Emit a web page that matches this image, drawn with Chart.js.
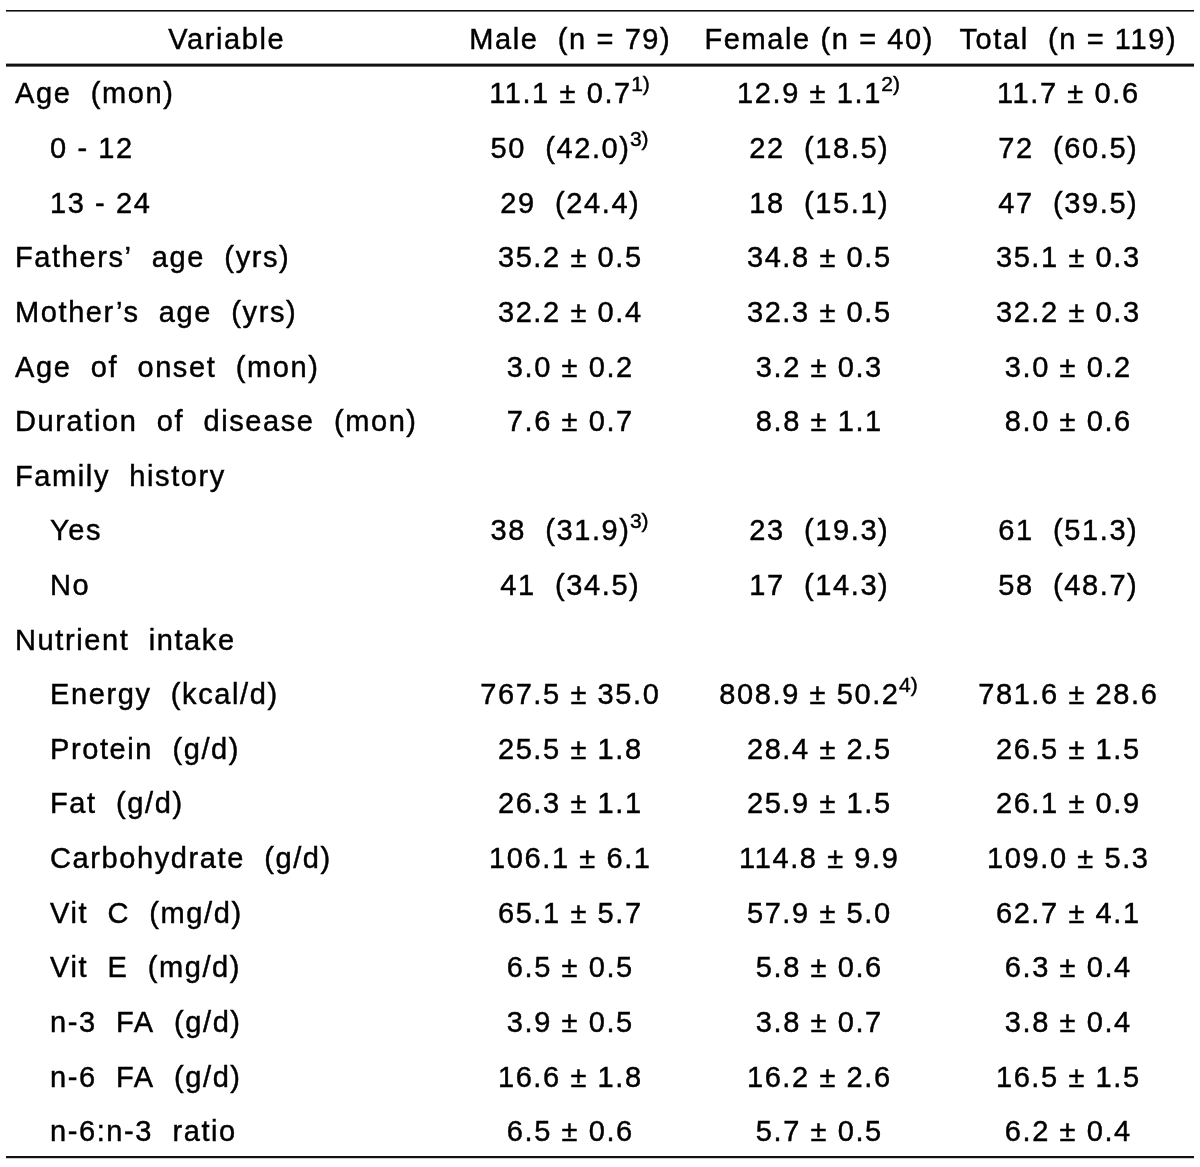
<!DOCTYPE html>
<html>
<head>
<meta charset="utf-8">
<script src="https://cdn.jsdelivr.net/npm/chart.js@4.4.1/dist/chart.umd.min.js"></script>
<style>
  html, body { margin: 0; padding: 0; background: #ffffff; }
  #wrap { width: 1200px; height: 1167px; }
</style>
</head>
<body>
<div id="wrap"><canvas id="c" width="1200" height="1167"></canvas></div>
<script>
// ---------- DATA ----------
const headerLabel = 'Variable';
const columnKeys = ['Male', 'Female', 'Total'];
const columnHeaders = ['Male  (n = 79)', 'Female (n = 40)', 'Total  (n = 119)'];

const variables = [
  'Age  (mon)', '0 - 12', '13 - 24',
  'Fathers’  age  (yrs)', 'Mother’s  age  (yrs)',
  'Age  of  onset  (mon)', 'Duration  of  disease  (mon)',
  'Family  history', 'Yes', 'No',
  'Nutrient  intake', 'Energy  (kcal/d)', 'Protein  (g/d)', 'Fat  (g/d)',
  'Carbohydrate  (g/d)', 'Vit  C  (mg/d)', 'Vit  E  (mg/d)',
  'n-3  FA  (g/d)', 'n-6  FA  (g/d)', 'n-6:n-3  ratio'
];
const variableLevels = [0, 1, 1, 0, 0, 0, 0, 0, 1, 1, 0, 1, 1, 1, 1, 1, 1, 1, 1, 1];

const maleValues = [
  '11.1 ± 0.7', '50  (42.0)', '29  (24.4)', '35.2 ± 0.5', '32.2 ± 0.4',
  '3.0 ± 0.2', '7.6 ± 0.7', '', '38  (31.9)', '41  (34.5)',
  '', '767.5 ± 35.0', '25.5 ± 1.8', '26.3 ± 1.1', '106.1 ± 6.1',
  '65.1 ± 5.7', '6.5 ± 0.5', '3.9 ± 0.5', '16.6 ± 1.8', '6.5 ± 0.6'
];
const femaleValues = [
  '12.9 ± 1.1', '22  (18.5)', '18  (15.1)', '34.8 ± 0.5', '32.3 ± 0.5',
  '3.2 ± 0.3', '8.8 ± 1.1', '', '23  (19.3)', '17  (14.3)',
  '', '808.9 ± 50.2', '28.4 ± 2.5', '25.9 ± 1.5', '114.8 ± 9.9',
  '57.9 ± 5.0', '5.8 ± 0.6', '3.8 ± 0.7', '16.2 ± 2.6', '5.7 ± 0.5'
];
const totalValues = [
  '11.7 ± 0.6', '72  (60.5)', '47  (39.5)', '35.1 ± 0.3', '32.2 ± 0.3',
  '3.0 ± 0.2', '8.0 ± 0.6', '', '61  (51.3)', '58  (48.7)',
  '', '781.6 ± 28.6', '26.5 ± 1.5', '26.1 ± 0.9', '109.0 ± 5.3',
  '62.7 ± 4.1', '6.3 ± 0.4', '3.8 ± 0.4', '16.5 ± 1.5', '6.2 ± 0.4'
];
// footnote markers (superscripts)
const maleNotes   = ['1)', '3)', '', '', '', '', '', '', '3)', '', '', '', '', '', '', '', '', '', '', ''];
const femaleNotes = ['2)', '', '', '', '', '', '', '', '', '', '', '4)', '', '', '', '', '', '', '', ''];
const totalNotes  = ['', '', '', '', '', '', '', '', '', '', '', '', '', '', '', '', '', '', '', ''];

// ---------- BUILD ----------
const rowLabels = [headerLabel].concat(variables);
const columnValues = [maleValues, femaleValues, totalValues];
const columnNotes = [maleNotes, femaleNotes, totalNotes];

const datasets = columnKeys.map((key) => ({
  label: key,
  data: rowLabels.map(r => ({ x: key, y: r })),
  pointRadius: 0,
  pointHoverRadius: 0,
  showLine: false
}));

const FONT = '"Liberation Sans", Arial, "DejaVu Sans", sans-serif';
const BASE_SIZE = 29;
const SUP_SIZE = 21;
const SPACING = 1.6;

function setFont(ctx, size, spacing) {
  ctx.font = size + 'px ' + FONT;
  ctx.letterSpacing = spacing + 'px';
}
function textWidth(ctx, s, spacing) {
  if (!s) return 0;
  return ctx.measureText(s).width - spacing;
}
function paint(ctx, s, x, y) {
  ctx.fillText(s, x, y);
  ctx.strokeText(s, x, y);
}

function drawCell(ctx, cx, cy, base, note, align) {
  setFont(ctx, BASE_SIZE, SPACING);
  const wb = textWidth(ctx, base, SPACING);
  let ws = 0;
  if (note) {
    setFont(ctx, SUP_SIZE, 0);
    ws = ctx.measureText(note).width + 1;
  }
  const x0 = align === 'left' ? cx : cx - (wb + ws) / 2;
  ctx.textAlign = 'left';
  ctx.textBaseline = 'alphabetic';
  ctx.lineWidth = 0.45;
  ctx.strokeStyle = '#000000';
  setFont(ctx, BASE_SIZE, SPACING);
  paint(ctx, base, x0, cy + 10.5);
  if (note) {
    setFont(ctx, SUP_SIZE, 0);
    paint(ctx, note, x0 + wb + 1, cy - 2);
  }
}

const tablePlugin = {
  id: 'tablePlugin',
  afterDatasetsDraw(chart) {
    const ctx = chart.ctx;
    const yScale = chart.scales.y;
    const area = chart.chartArea;
    ctx.save();
    ctx.fillStyle = '#000000';

    // rules
    const lineLeft = 6, lineRight = 1194;
    const y0 = yScale.getPixelForValue(0);
    const y1 = yScale.getPixelForValue(1);
    ctx.fillStyle = '#111111';
    ctx.fillRect(lineLeft, area.top - 1, lineRight - lineLeft, 1.6);
    ctx.fillRect(lineLeft, (y0 + y1) / 2 - 2, lineRight - lineLeft, 3);
    ctx.fillRect(lineLeft, area.bottom - 2, lineRight - lineLeft, 2.2);
    ctx.fillStyle = '#000000';

    // variable column
    rowLabels.forEach((label, i) => {
      const y = yScale.getPixelForValue(i);
      if (i === 0) {
        drawCell(ctx, 226, y, label, '', 'center');
      } else {
        const lvl = variableLevels[i - 1];
        drawCell(ctx, lvl ? 50 : 15, y, label, '', 'left');
      }
    });

    // data columns, positioned via the dataset's points
    chart.data.datasets.forEach((ds, ci) => {
      const meta = chart.getDatasetMeta(ci);
      meta.data.forEach((pt, i) => {
        if (i === 0) {
          drawCell(ctx, pt.x, pt.y, columnHeaders[ci], '', 'center');
        } else {
          drawCell(ctx, pt.x, pt.y, columnValues[ci][i - 1], columnNotes[ci][i - 1], 'center');
        }
      });
    });
    ctx.restore();
  }
};

new Chart(document.getElementById('c'), {
  type: 'scatter',
  data: { datasets },
  options: {
    responsive: false,
    animation: false,
    events: [],
    layout: { padding: { left: 445, right: 8, top: 11, bottom: 9 } },
    plugins: { legend: { display: false }, tooltip: { enabled: false } },
    scales: {
      x: { type: 'category', labels: columnKeys, offset: true, display: false },
      y: { type: 'category', labels: rowLabels, offset: true, display: false }
    }
  },
  plugins: [tablePlugin]
});
</script>
</body>
</html>
